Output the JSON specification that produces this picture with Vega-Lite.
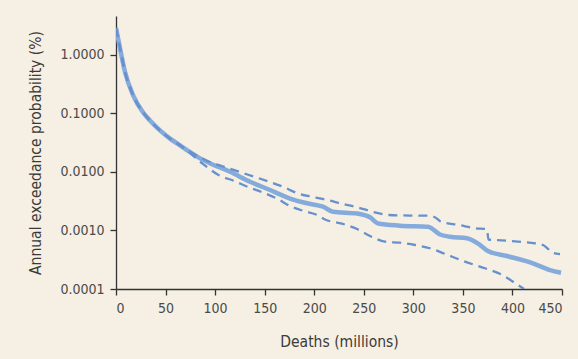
{
  "$schema": "https://vega.github.io/schema/vega-lite/v6.json",
  "width": 446,
  "height": 273,
  "autosize": "none",
  "padding": {"left": 116, "top": 16, "right": 16, "bottom": 70},
  "background": "#f5f0e3",
  "config": {
    "view": {"stroke": null},
    "axis": {
      "grid": false,
      "domainColor": "#333333",
      "domainWidth": 1.3,
      "tickColor": "#333333",
      "tickWidth": 1.3,
      "tickSize": 6,
      "labelFont": "DejaVu Sans Condensed, Liberation Sans, sans-serif",
      "labelFontSize": 14,
      "labelColor": "#4a4a4a",
      "labelPadding": 6,
      "titleFont": "DejaVu Sans Condensed, Liberation Sans, sans-serif",
      "titleFontSize": 15.5,
      "titleFontWeight": "normal",
      "titleColor": "#3a3a3a"
    }
  },
  "data": {
    "values": [
      {"series": "central", "deaths": 0, "prob": 2.89},
      {"series": "central", "deaths": 1.0, "prob": 2.38},
      {"series": "central", "deaths": 4.0, "prob": 1.32},
      {"series": "central", "deaths": 9.1, "prob": 0.512},
      {"series": "central", "deaths": 17.2, "prob": 0.207},
      {"series": "central", "deaths": 27.2, "prob": 0.105},
      {"series": "central", "deaths": 34.3, "prob": 0.0759},
      {"series": "central", "deaths": 44.4, "prob": 0.0513},
      {"series": "central", "deaths": 54.5, "prob": 0.0372},
      {"series": "central", "deaths": 61.6, "prob": 0.0309},
      {"series": "central", "deaths": 74.7, "prob": 0.0219},
      {"series": "central", "deaths": 84.8, "prob": 0.0171},
      {"series": "central", "deaths": 94.8, "prob": 0.0141},
      {"series": "central", "deaths": 115.0, "prob": 0.0101},
      {"series": "central", "deaths": 135.2, "prob": 0.00683},
      {"series": "central", "deaths": 155.4, "prob": 0.00492},
      {"series": "central", "deaths": 175.6, "prob": 0.00352},
      {"series": "central", "deaths": 192.7, "prob": 0.00292},
      {"series": "central", "deaths": 208.9, "prob": 0.00255},
      {"series": "central", "deaths": 219.0, "prob": 0.00209},
      {"series": "central", "deaths": 243.2, "prob": 0.00195},
      {"series": "central", "deaths": 256.3, "prob": 0.00168},
      {"series": "central", "deaths": 264.4, "prob": 0.00132},
      {"series": "central", "deaths": 286.5, "prob": 0.00121},
      {"series": "central", "deaths": 314.8, "prob": 0.00116},
      {"series": "central", "deaths": 326.9, "prob": 0.000855},
      {"series": "central", "deaths": 337.0, "prob": 0.000783},
      {"series": "central", "deaths": 354.1, "prob": 0.000736},
      {"series": "central", "deaths": 367.3, "prob": 0.000565},
      {"series": "central", "deaths": 375.3, "prob": 0.000447},
      {"series": "central", "deaths": 394.5, "prob": 0.000366},
      {"series": "central", "deaths": 420.7, "prob": 0.000275},
      {"series": "central", "deaths": 437.9, "prob": 0.000211},
      {"series": "central", "deaths": 449.0, "prob": 0.00019},

      {"series": "upper", "deaths": 0, "prob": 2.89},
      {"series": "upper", "deaths": 1.0, "prob": 2.38},
      {"series": "upper", "deaths": 4.0, "prob": 1.32},
      {"series": "upper", "deaths": 9.1, "prob": 0.512},
      {"series": "upper", "deaths": 17.2, "prob": 0.207},
      {"series": "upper", "deaths": 27.2, "prob": 0.105},
      {"series": "upper", "deaths": 34.3, "prob": 0.0759},
      {"series": "upper", "deaths": 44.4, "prob": 0.0513},
      {"series": "upper", "deaths": 54.5, "prob": 0.0372},
      {"series": "upper", "deaths": 61.6, "prob": 0.0309},
      {"series": "upper", "deaths": 74.7, "prob": 0.0222},
      {"series": "upper", "deaths": 93.8, "prob": 0.015},
      {"series": "upper", "deaths": 109.0, "prob": 0.0123},
      {"series": "upper", "deaths": 124.1, "prob": 0.0101},
      {"series": "upper", "deaths": 139.2, "prob": 0.00832},
      {"series": "upper", "deaths": 154.4, "prob": 0.00683},
      {"series": "upper", "deaths": 169.0, "prob": 0.00555},
      {"series": "upper", "deaths": 182.6, "prob": 0.00437},
      {"series": "upper", "deaths": 198.3, "prob": 0.00374},
      {"series": "upper", "deaths": 213.4, "prob": 0.00332},
      {"series": "upper", "deaths": 228.5, "prob": 0.00284},
      {"series": "upper", "deaths": 243.7, "prob": 0.00249},
      {"series": "upper", "deaths": 258.8, "prob": 0.00209},
      {"series": "upper", "deaths": 275.4, "prob": 0.00184},
      {"series": "upper", "deaths": 296.6, "prob": 0.0018},
      {"series": "upper", "deaths": 316.8, "prob": 0.00179},
      {"series": "upper", "deaths": 322.9, "prob": 0.00164},
      {"series": "upper", "deaths": 327.9, "prob": 0.00141},
      {"series": "upper", "deaths": 346.1, "prob": 0.00124},
      {"series": "upper", "deaths": 363.3, "prob": 0.00109},
      {"series": "upper", "deaths": 374.3, "prob": 0.00105},
      {"series": "upper", "deaths": 375.8, "prob": 0.000702},
      {"series": "upper", "deaths": 382.4, "prob": 0.000689},
      {"series": "upper", "deaths": 405.6, "prob": 0.000645},
      {"series": "upper", "deaths": 422.8, "prob": 0.000604},
      {"series": "upper", "deaths": 430.8, "prob": 0.000565},
      {"series": "upper", "deaths": 436.0, "prob": 0.000483},
      {"series": "upper", "deaths": 441.0, "prob": 0.000412},
      {"series": "upper", "deaths": 448.0, "prob": 0.000396},

      {"series": "lower", "deaths": 0, "prob": 2.89},
      {"series": "lower", "deaths": 1.0, "prob": 2.38},
      {"series": "lower", "deaths": 4.0, "prob": 1.32},
      {"series": "lower", "deaths": 9.1, "prob": 0.512},
      {"series": "lower", "deaths": 17.2, "prob": 0.207},
      {"series": "lower", "deaths": 27.2, "prob": 0.105},
      {"series": "lower", "deaths": 34.3, "prob": 0.0759},
      {"series": "lower", "deaths": 44.4, "prob": 0.0513},
      {"series": "lower", "deaths": 54.5, "prob": 0.0372},
      {"series": "lower", "deaths": 61.6, "prob": 0.0309},
      {"series": "lower", "deaths": 74.7, "prob": 0.0213},
      {"series": "lower", "deaths": 82.7, "prob": 0.016},
      {"series": "lower", "deaths": 89.8, "prob": 0.0129},
      {"series": "lower", "deaths": 103.4, "prob": 0.00889},
      {"series": "lower", "deaths": 118.6, "prob": 0.00709},
      {"series": "lower", "deaths": 133.2, "prob": 0.00555},
      {"series": "lower", "deaths": 147.3, "prob": 0.00452},
      {"series": "lower", "deaths": 161.9, "prob": 0.00355},
      {"series": "lower", "deaths": 175.6, "prob": 0.00262},
      {"series": "lower", "deaths": 189.7, "prob": 0.00215},
      {"series": "lower", "deaths": 201.8, "prob": 0.00188},
      {"series": "lower", "deaths": 210.9, "prob": 0.00154},
      {"series": "lower", "deaths": 228.0, "prob": 0.00131},
      {"series": "lower", "deaths": 243.2, "prob": 0.00106},
      {"series": "lower", "deaths": 256.3, "prob": 0.000805},
      {"series": "lower", "deaths": 271.4, "prob": 0.000645},
      {"series": "lower", "deaths": 286.5, "prob": 0.000618},
      {"series": "lower", "deaths": 301.7, "prob": 0.000565},
      {"series": "lower", "deaths": 316.8, "prob": 0.000497},
      {"series": "lower", "deaths": 330.9, "prob": 0.000405},
      {"series": "lower", "deaths": 352.1, "prob": 0.000293},
      {"series": "lower", "deaths": 372.3, "prob": 0.000226},
      {"series": "lower", "deaths": 390.0, "prob": 0.000173},
      {"series": "lower", "deaths": 405.6, "prob": 0.000117},
      {"series": "lower", "deaths": 411.7, "prob": 0.0001}
    ]
  },
  "encoding": {
    "x": {
      "field": "deaths",
      "type": "quantitative",
      "scale": {"domain": [0, 450], "nice": false},
      "axis": {"values": [0, 50, 100, 150, 200, 250, 300, 350, 400, 450], "title": "Deaths (millions)", "titlePadding": 19}
    },
    "y": {
      "field": "prob",
      "type": "quantitative",
      "scale": {"type": "log", "domain": [0.0001, 4.64], "nice": false},
      "axis": {"values": [0.0001, 0.001, 0.01, 0.1, 1], "format": ".4f", "title": "Annual exceedance probability (%)", "titlePadding": 16}
    }
  },
  "layer": [
    {
      "transform": [{"filter": "datum.series === 'central'"}],
      "mark": {"type": "line", "color": "#85abdc", "strokeWidth": 4.5, "interpolate": "monotone", "clip": true}
    },
    {
      "transform": [{"filter": "datum.series !== 'central'"}],
      "mark": {"type": "line", "color": "#6790cc", "strokeWidth": 2.3, "strokeDash": [9, 6], "interpolate": "monotone", "clip": true},
      "encoding": {"detail": {"field": "series"}}
    }
  ]
}
